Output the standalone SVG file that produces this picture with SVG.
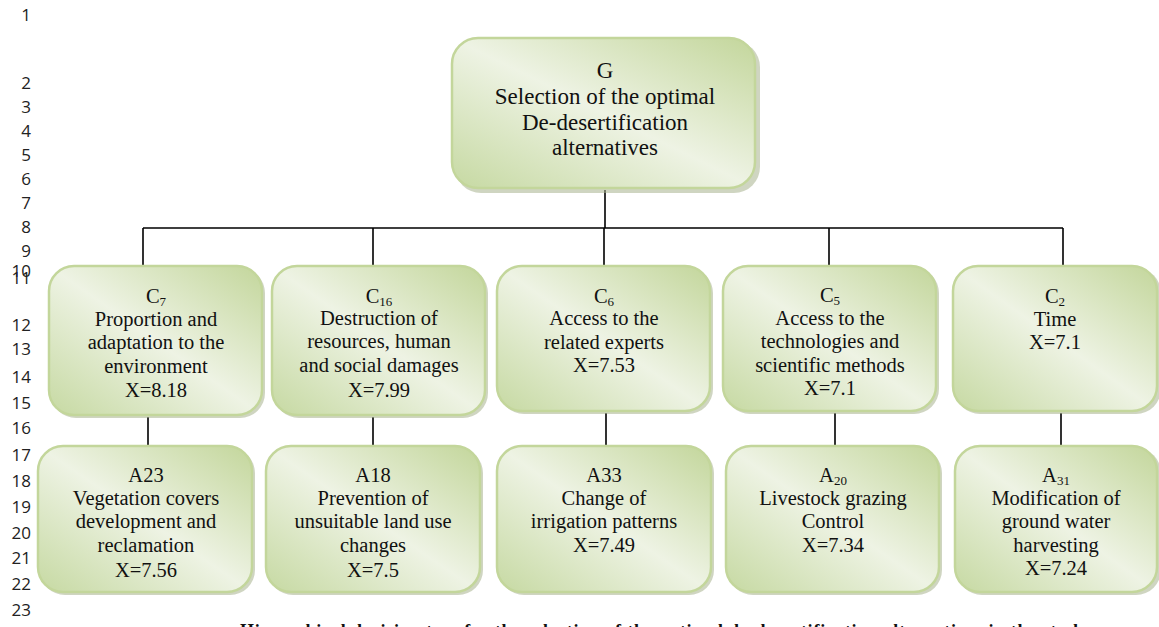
<svg xmlns="http://www.w3.org/2000/svg" width="1159" height="627" viewBox="0 0 1159 627">
<defs>
<linearGradient id="g" x1="0" y1="1" x2="1" y2="0">
<stop offset="0" stop-color="#c6d9a2"/>
<stop offset="0.5" stop-color="#eef3e4"/>
<stop offset="1" stop-color="#c3d69b"/>
</linearGradient>
</defs>
<style>
.box{fill:url(#g);stroke:#c3d69b;stroke-width:2.5}
.sh{fill:#a8b38e;opacity:0.55}
.t{font-family:"Liberation Serif","Times New Roman",serif;font-size:20.5px;fill:#111;text-anchor:middle}
.tg{font-size:23px}
.sub{font-size:13px}
.ln{font-family:"Open Sans","Liberation Sans",Arial,sans-serif;font-size:17px;fill:#222;text-anchor:end}
.c{stroke:#000;stroke-width:1.6;fill:none}
.cap{font-family:"Liberation Serif","Times New Roman",serif;font-size:18px;font-weight:bold;fill:#111}
</style>
<rect width="1159" height="627" fill="#fff"/>
<g id="line-numbers" class="ln">
<text x="31" y="21">1</text>
<text x="31" y="89">2</text>
<text x="31" y="113">3</text>
<text x="31" y="137">4</text>
<text x="31" y="161">5</text>
<text x="31" y="185">6</text>
<text x="31" y="209">7</text>
<text x="31" y="233">8</text>
<text x="31" y="257">9</text>
<text x="31" y="277">10</text>
<text x="31" y="284">11</text>
<text x="31" y="331">12</text>
<text x="31" y="355">13</text>
<text x="31" y="383">14</text>
<text x="31" y="409">15</text>
<text x="31" y="434">16</text>
<text x="31" y="461">17</text>
<text x="31" y="487">18</text>
<text x="31" y="513">19</text>
<text x="31" y="539">20</text>
<text x="31" y="564">21</text>
<text x="31" y="590">22</text>
<text x="31" y="616">23</text>
</g>
<g id="connectors" class="c">
<path d="M605 190V228M143 228H1063M143 228V266M373 228V266M604 228V266M829 228V266M1063 228V266"/>
<path d="M148 417V446M373 417V446M606 413V446M835 413V446M1061 413V446"/>
</g>
<g id="G">
<rect class="sh" x="455" y="41" width="305" height="152" rx="26"/>
<rect class="box" x="452" y="38" width="303" height="150" rx="26"/>
<text class="t tg" x="605" y="78">G</text>
<text class="t tg" x="605" y="104">Selection of the optimal</text>
<text class="t tg" x="605" y="130">De-desertification</text>
<text class="t tg" x="605" y="155">alternatives</text>
</g>
<g id="C7">
<rect class="sh" x="51" y="268" width="214" height="150" rx="25"/>
<rect class="box" x="49" y="266" width="213" height="149" rx="25"/>
<text class="t" x="156" y="303">C<tspan class="sub" dy="3">7</tspan></text>
<text class="t" x="156" y="326">Proportion and</text>
<text class="t" x="156" y="349">adaptation to the</text>
<text class="t" x="156" y="373">environment</text>
<text class="t" x="156" y="397">X=8.18</text>
</g>
<g id="C16">
<rect class="sh" x="274" y="268" width="214" height="150" rx="25"/>
<rect class="box" x="272" y="266" width="213" height="149" rx="25"/>
<text class="t" x="379" y="303">C<tspan class="sub" dy="3">16</tspan></text>
<text class="t" x="379" y="325">Destruction of</text>
<text class="t" x="379" y="348">resources, human</text>
<text class="t" x="379" y="372">and social damages</text>
<text class="t" x="379" y="397">X=7.99</text>
</g>
<g id="C6">
<rect class="sh" x="499" y="268" width="214" height="146" rx="25"/>
<rect class="box" x="497" y="266" width="213" height="145" rx="25"/>
<text class="t" x="604" y="303">C<tspan class="sub" dy="3">6</tspan></text>
<text class="t" x="604" y="325">Access to the</text>
<text class="t" x="604" y="349">related experts</text>
<text class="t" x="604" y="372">X=7.53</text>
</g>
<g id="C5">
<rect class="sh" x="725" y="268" width="214" height="146" rx="25"/>
<rect class="box" x="723" y="266" width="213" height="145" rx="25"/>
<text class="t" x="830" y="302">C<tspan class="sub" dy="3">5</tspan></text>
<text class="t" x="830" y="325">Access to the</text>
<text class="t" x="830" y="348">technologies and</text>
<text class="t" x="830" y="372">scientific methods</text>
<text class="t" x="830" y="395">X=7.1</text>
</g>
<g id="C2">
<rect class="sh" x="955" y="268" width="206" height="146" rx="25"/>
<rect class="box" x="953" y="266" width="204" height="145" rx="25"/>
<text class="t" x="1055" y="303">C<tspan class="sub" dy="3">2</tspan></text>
<text class="t" x="1055" y="326">Time</text>
<text class="t" x="1055" y="349">X=7.1</text>
</g>
<g id="A23">
<rect class="sh" x="40" y="448" width="215" height="147" rx="25"/>
<rect class="box" x="38" y="446" width="214" height="146" rx="25"/>
<text class="t" x="146" y="482">A23</text>
<text class="t" x="146" y="505">Vegetation covers</text>
<text class="t" x="146" y="528">development and</text>
<text class="t" x="146" y="552">reclamation</text>
<text class="t" x="146" y="577">X=7.56</text>
</g>
<g id="A18">
<rect class="sh" x="268" y="448" width="215" height="147" rx="25"/>
<rect class="box" x="266" y="446" width="214" height="146" rx="25"/>
<text class="t" x="373" y="482">A18</text>
<text class="t" x="373" y="505">Prevention of</text>
<text class="t" x="373" y="528">unsuitable land use</text>
<text class="t" x="373" y="552">changes</text>
<text class="t" x="373" y="577">X=7.5</text>
</g>
<g id="A33">
<rect class="sh" x="499" y="448" width="215" height="147" rx="25"/>
<rect class="box" x="497" y="446" width="214" height="146" rx="25"/>
<text class="t" x="604" y="482">A33</text>
<text class="t" x="604" y="505">Change of</text>
<text class="t" x="604" y="528">irrigation patterns</text>
<text class="t" x="604" y="552">X=7.49</text>
</g>
<g id="A20">
<rect class="sh" x="728" y="448" width="214" height="147" rx="25"/>
<rect class="box" x="726" y="446" width="213" height="146" rx="25"/>
<text class="t" x="833" y="482">A<tspan class="sub" dy="3">20</tspan></text>
<text class="t" x="833" y="505">Livestock grazing</text>
<text class="t" x="833" y="528">Control</text>
<text class="t" x="833" y="552">X=7.34</text>
</g>
<g id="A31">
<rect class="sh" x="957" y="448" width="204" height="147" rx="25"/>
<rect class="box" x="955" y="446" width="202" height="146" rx="25"/>
<text class="t" x="1056" y="482">A<tspan class="sub" dy="3">31</tspan></text>
<text class="t" x="1056" y="505">Modification of</text>
<text class="t" x="1056" y="528">ground water</text>
<text class="t" x="1056" y="552">harvesting</text>
<text class="t" x="1056" y="575">X=7.24</text>
</g>
<text class="cap" x="240" y="637" textLength="890">Hierarchical decision tree for the selection of the optimal de-desertification alternatives in the study area</text>
</svg>
